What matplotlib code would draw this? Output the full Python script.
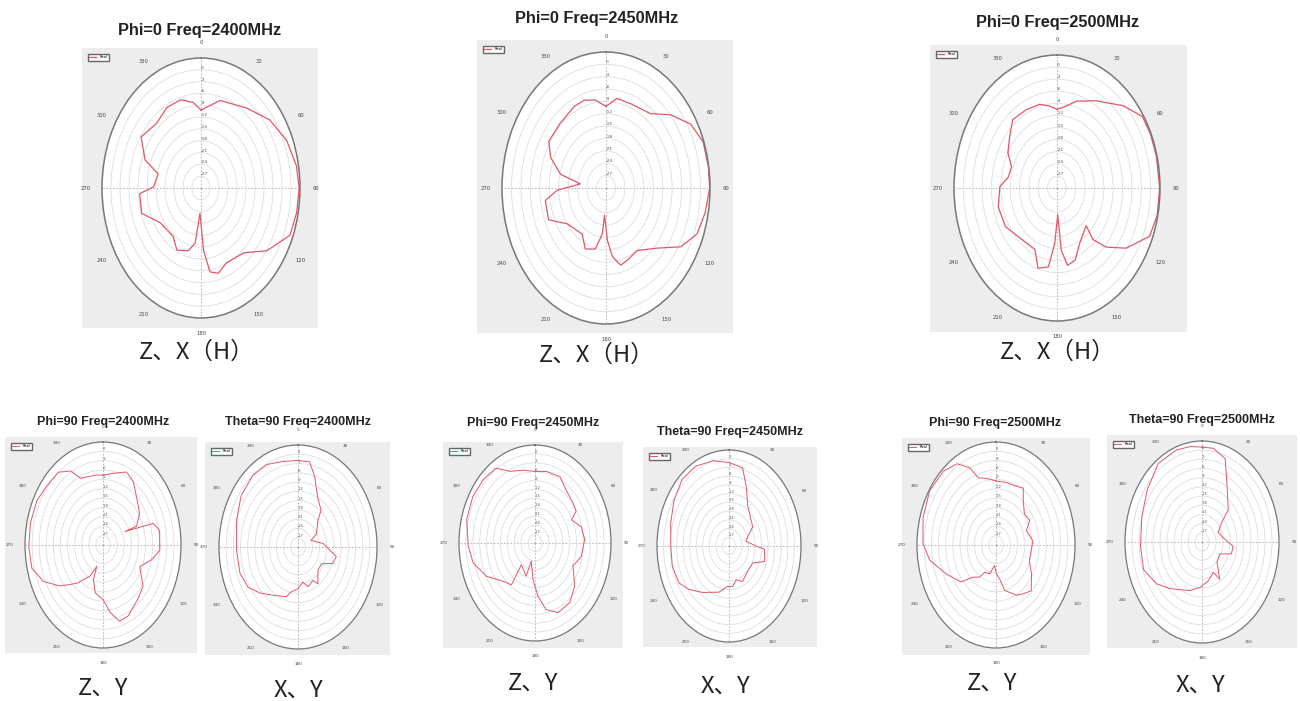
import numpy as np
import matplotlib
matplotlib.use('Agg')
import matplotlib.pyplot as plt
from matplotlib.patches import Rectangle

# 方向图数据 (角度 deg, 增益 dB)
ang_p0_2400 = [0, 16, 37, 53, 67, 80, 90, 101, 112, 126, 139, 156, 165, 172, 177, 183, 188, 195, 207, 217,
               237, 252, 266, 271, 284, 291, 303, 318, 331, 343, 353]
gain_p0_2400 = [-10.2, -6.9, -4.6, -1.3, 1.0, 2.3, 2.7, 2.5, 2.0, -2.9, -8.2, -9.2, -7.6, -8.5, -14.2, -23.6, -15.8,
                -13.5, -12.3, -14.6, -13.8, -9.2, -9.5, -14.2, -15.3, -10.0, -6.2, -7.9, -6.6, -6.6, -8.1]

ang_p0_2450 = [0, 9, 21, 38, 49, 60, 70, 81, 90, 101, 111, 121, 132, 147, 159, 166, 173, 178, 184, 186, 193, 204,
               214, 235, 247, 261, 268, 277, 283, 293, 302, 317, 333, 342, 351]
gain_p0_2450 = [-10.2, -8.0, -8.1, -7.1, -2.9, 1.0, 2.8, 2.9, 2.9, 2.0, 1.0, -2.3, -8.2, -11.9, -11.2, -10.7, -13.2,
                -17.3, -23.4, -18.8, -14.8, -13.8, -16.5, -14.9, -10.2, -10.5, -14.5, -21.8, -15.2, -10.9, -8.6,
                -8.6, -7.8, -7.6, -8.4]

ang_p0_2500 = [0, 8, 16, 30, 46, 57, 66, 76, 90, 102, 112, 124, 133, 138, 135, 152, 162, 170, 175, 178, 183, 188,
               197, 205, 224, 240, 256, 271, 280, 290, 299, 310, 320, 333, 345, 353]
gain_p0_2500 = [-10.5, -9.5, -7.6, -5.0, -0.6, 2.6, 2.8, 2.8, 2.9, 2.8, 2.0, -3.3, -8.5, -12.8, -16.8, -14.5, -11.2,
                -10.5, -14.5, -23.4, -16.3, -10.2, -9.2, -13.2, -12.8, -10.9, -10.6, -11.7, -14.2, -14.5, -12.0,
                -10.2, -7.9, -8.2, -8.5, -9.5]

ang_p90_2400 = [0, 11, 23, 32, 42, 57, 67, 65, 72, 79, 94, 103, 114, 128, 140, 155, 164, 172, 180, 192, 200, 201,
                209, 222, 234, 245, 256, 269, 283, 297, 308, 321, 330, 336, 344, 353]
gain_p90_2400 = [-7.6, -6.6, -4.6, -5.9, -8.9, -11.5, -14.6, -19.8, -7.6, -5.6, -5.9, -8.9, -13.0, -8.5, -7.2, -4.9,
                 -4.6, -8.2, -12.5, -14.3, -18.2, -22.7, -18.6, -13.5, -7.6, -2.3, 1.0, 1.4, 1.5, 1.4, 0.4, 0.0,
                 -2.6, -6.6, -7.2, -7.4]

ang_t90_2400 = [0, 10, 17, 27, 39, 44, 61, 69, 84, 101, 110, 119, 132, 145, 150, 162, 170, 180, 191, 197, 214,
                227, 238, 251, 268, 289, 305, 321, 334, 347]
gain_t90_2400 = [-2.0, -2.0, -6.2, -11.9, -14.7, -18.0, -21.2, -24.1, -19.4, -13.7, -14.5, -18.8, -18.8, -15.5,
                 -17.5, -16.5, -18.5, -16.5, -15.2, -13.2, -11.2, -8.2, -5.4, -4.3, -4.3, -2.9, -1.0, -0.1, -0.3,
                 -1.6]

ang_p90_2450 = [0, 12, 26, 37, 51, 59, 64, 75, 87, 103, 115, 130, 143, 157, 168, 176, 184, 195, 199, 219, 216, 227,
                242, 256, 268, 285, 300, 313, 326, 336, 348]
gain_p90_2450 = [-5.9, -5.4, -5.2, -7.6, -8.7, -9.2, -12.3, -9.1, -8.4, -9.4, -11.8, -7.5, -4.9, -4.5, -7.1, -12.1,
                 -17.7, -23.7, -18.2, -20.6, -12.6, -11.1, -6.1, -2.3, -1.0, 0.7, 1.2, 1.0, 0.4, -3.6, -4.9]

ang_t90_2450 = [0, 13, 21, 32, 59, 69, 78, 90, 94, 108, 118, 136, 153, 164, 173, 183, 196, 217, 231, 241, 255, 270,
                287, 302, 317, 331, 346]
gain_t90_2450 = [-1.3, -2.4, -8.0, -13.8, -17.3, -20.8, -22.1, -17.6, -13.7, -12.8, -17.6, -17.8, -16.3, -17.9,
                 -16.0, -16.1, -13.5, -10.0, -6.3, -3.8, -3.1, -3.3, -2.1, -0.3, 1.4, 1.4, 0.2]

ang_p90_2500 = [0, 12, 22, 32, 39, 50, 61, 70, 85, 97, 110, 122, 135, 144, 152, 166, 172, 179, 185, 196, 208, 214,
                223, 231, 246, 260, 271, 286, 302, 317, 328, 336, 341, 351]
gain_p90_2500 = [-9.5, -9.5, -9.5, -8.5, -11.9, -14.5, -13.9, -16.5, -14.5, -15.2, -15.2, -12.5, -9.2, -10.7,
                 -11.8, -15.0, -19.0, -20.8, -23.4, -20.4, -20.1, -17.6, -15.9, -11.2, -7.2, -1.9, 0.5, 1.7, 2.7,
                 2.3, 0.7, -2.9, -7.2, -8.5]

ang_t90_2500 = [0, 9, 20, 29, 47, 53, 66, 85, 96, 107, 117, 136, 148, 154, 168, 183, 198, 222, 235, 250, 267, 288,
                306, 324, 340, 351]
gain_t90_2500 = [1.0, 1.0, -1.0, -8.0, -14.6, -19.5, -22.4, -20.1, -16.6, -16.8, -21.4, -20.8, -15.6, -19.0, -17.0,
                 -15.2, -13.3, -9.5, -6.2, -3.4, -3.6, -2.9, -1.0, 1.8, 2.0, 1.6]

titles = ['Phi=0 Freq=2400MHz', 'Phi=0 Freq=2450MHz', 'Phi=0 Freq=2500MHz',
          'Phi=90 Freq=2400MHz', 'Theta=90 Freq=2400MHz',
          'Phi=90 Freq=2450MHz', 'Theta=90 Freq=2450MHz',
          'Phi=90 Freq=2500MHz', 'Theta=90 Freq=2500MHz']
captions = ['Z、X（H）', 'Z、X（H）', 'Z、X（H）',
            'Z、Y', 'X、Y', 'Z、Y', 'X、Y', 'Z、Y', 'X、Y']
series = [(ang_p0_2400, gain_p0_2400), (ang_p0_2450, gain_p0_2450), (ang_p0_2500, gain_p0_2500),
          (ang_p90_2400, gain_p90_2400), (ang_t90_2400, gain_t90_2400),
          (ang_p90_2450, gain_p90_2450), (ang_t90_2450, gain_t90_2450),
          (ang_p90_2500, gain_p90_2500), (ang_t90_2500, gain_t90_2500)]
legend_label = 'Real'
r_min, r_max = -30, 3
r_ticks = list(range(-27, 1, 3))
theta_ticks = list(range(0, 360, 30))

# 版面位置 (像素)
W, H = 1300, 701
gray_boxes = [(82, 48, 318, 328), (477, 40, 733, 333), (930, 45, 1187, 332),
              (5, 437, 197, 653), (205, 442, 390, 655), (443, 442, 623, 648),
              (643, 447, 817, 647), (902, 438, 1090, 655), (1107, 435, 1297, 648)]
ellipses = [(201, 188, 99, 130), (606, 188, 104, 136), (1057, 188, 103, 133),
            (103, 545, 78, 103), (298, 547, 79, 102), (535, 543, 76, 98),
            (729, 546, 72, 96), (996, 545, 79, 103), (1202, 542, 77, 101)]
title_pos = [(200, 30), (597, 18), (1058, 22), (103, 422), (298, 422),
             (533, 423), (730, 432), (995, 423), (1202, 420)]
caption_pos = [(197, 352), (597, 355), (1058, 352), (103, 688), (298, 690),
               (533, 683), (725, 686), (992, 683), (1200, 685)]

sans = ['Liberation Sans', 'DejaVu Sans']
cjk = ['Noto Sans CJK SC', 'DejaVu Sans']

fig = plt.figure(figsize=(W / 100, H / 100), dpi=100)
fig.patch.set_facecolor('white')

for i, (ang, gain) in enumerate(series):
    big = i < 3
    x0, y0, x1, y1 = gray_boxes[i]
    fig.patches.append(Rectangle((x0 / W, 1 - y1 / H), (x1 - x0) / W, (y1 - y0) / H,
                                 transform=fig.transFigure, facecolor='#ededed',
                                 edgecolor='none', zorder=-5))
    cx, cy, rx, ry = ellipses[i]
    ax = fig.add_axes([(cx - rx) / W, 1 - (cy + ry) / H, 2 * rx / W, 2 * ry / H],
                      projection='polar')
    ax.set_zorder(2)
    ax.set_aspect('auto')
    ax.set_theta_zero_location('N')
    ax.set_theta_direction(-1)
    ax.set_facecolor('white')

    th = np.deg2rad(np.r_[ang, ang[0]])
    rr = np.r_[gain, gain[0]]
    ax.plot(th, rr, color='#e2566b', lw=0.9 if big else 0.7, label=legend_label,
            solid_joinstyle='round')

    ax.set_ylim(r_min, r_max)
    ax.set_yticks(r_ticks)
    ax.set_yticklabels([str(t) for t in r_ticks], fontsize=3.2 if big else 2.6, color='#555555')
    ax.set_rlabel_position(0)
    ax.set_thetagrids(theta_ticks, labels=[str(t) for t in theta_ticks])
    ax.tick_params(axis='x', labelsize=3.8 if big else 3, colors='#444444',
                   pad=1 if big else 0.3)
    ax.yaxis.grid(True, color='#dddddd', lw=0.6, ls='-')
    for k, gl in enumerate(ax.xaxis.get_gridlines()):
        gl.set_visible(k % 3 == 0)
        gl.set_color('#aaaaaa')
        gl.set_linestyle((0, (2, 2)))
        gl.set_linewidth(0.6)
    ax.spines['polar'].set_color('#777777')
    ax.spines['polar'].set_linewidth(1.1 if big else 0.9)

    ax.legend(loc='upper left', bbox_to_anchor=((x0 + 4) / W, 1 - (y0 + 4) / H),
              bbox_transform=fig.transFigure, fontsize=2.6, frameon=True,
              fancybox=False, edgecolor='#666666', handlelength=2, borderpad=0.4,
              facecolor='white', framealpha=1)

    tx, ty = title_pos[i]
    fig.text(tx / W, 1 - ty / H, titles[i], ha='center', va='center',
             fontsize=11.8 if big else 9, family=sans, fontweight='bold',
             color='#222222')
    qx, qy = caption_pos[i]
    fig.text(qx / W, 1 - qy / H, captions[i], ha='center', va='center',
             fontsize=17, family=cjk, color='#222222')

fig.savefig('out.png', dpi=100)
